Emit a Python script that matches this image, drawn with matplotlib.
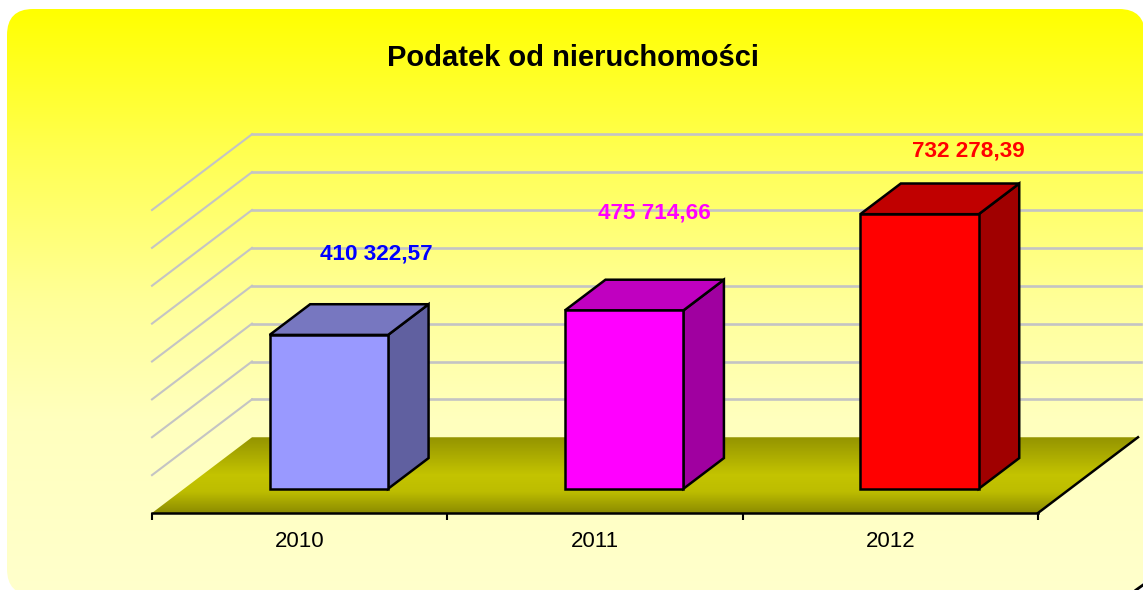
"""
Podatek od nieruchomosci - wykres slupkowy w stylu 3D
"""

import numpy as np
import matplotlib
matplotlib.use('Agg')
import matplotlib.pyplot as plt
from matplotlib.colors import LinearSegmentedColormap
from matplotlib.patches import FancyBboxPatch, Polygon

plt.rcParams['font.family'] = ['Liberation Sans', 'DejaVu Sans']

# dane
YEARS = ['2010', '2011', '2012']
VALUES = [410322.57, 475714.66, 732278.39]
VALUE_LABELS = ['410 322,57', '475 714,66', '732 278,39']
GRID_STEPS = [0, 100000, 200000, 300000, 400000, 500000, 600000, 700000, 800000]

# kolory slupkow: przod, gora, bok
FRONT_COLORS = ['#9999FF', '#FF00FF', '#FF0000']
TOP_COLORS = ['#7777C0', '#C000C0', '#C00000']
SIDE_COLORS = ['#6060A0', '#A000A0', '#A00000']
LABEL_COLORS = ['#0000FF', '#FF00FF', '#FF0000']

W, H = 1143, 590
# glebokosc sceny w jednostkach danych
DEPTH_X = 0.3386
DEPTH_Y = 200000
BAR_WIDTH = 0.401
BAR_SHIFT = -0.0095
BAR_D0 = 0.32
BAR_D1 = 0.725
# slupki stoja blizej niz tylna sciana, skala wartosci jest tam troche mniejsza
BAR_SCALE = 0.99


def project(x, v, d):
    """punkt (kategoria, wartosc, glebokosc 0..1) -> wspolrzedne osi"""
    return x + d * DEPTH_X, v + d * DEPTH_Y


def draw_background(fig):
    bg = fig.add_axes([0, 0, 1, 1], zorder=0)
    bg.set_xlim(0, W)
    bg.set_ylim(H, 0)
    bg.axis('off')
    cmap = LinearSegmentedColormap.from_list(
        'bg', [(0, '#FFFF00'), (0.24, '#FFFF50'), (0.5, '#FFFF99'), (0.7, '#FFFFBE'), (1, '#FFFFCC')])
    grad = np.linspace(0, 1, 256).reshape(-1, 1)
    im = bg.imshow(grad, cmap=cmap, extent=[7, W + 2, 595, 9], aspect='auto')
    r = 26
    panel = FancyBboxPatch((7 + r, 9 + r), W + 2 - 7 - 2 * r, 595 - 9 - 2 * r,
                           boxstyle=f'round,pad={r},rounding_size={r}',
                           transform=bg.transData, fc='none', ec='none')
    bg.add_patch(panel)
    im.set_clip_path(panel)
    # resztka ramki w prawym dolnym rogu
    bg.plot([1136, 1143], [590, 585], color='black', lw=2)
    bg.set_xlim(0, W)
    bg.set_ylim(H, 0)


def draw_walls(ax):
    for v in GRID_STEPS[1:]:
        x0, y0 = project(0, v, 0)
        x1, y1 = project(0, v, 1)
        ax.plot([x0, x1], [y0, y1], color='#C4C4C4', lw=1.5, clip_on=False, zorder=1)
        ax.plot([x1, 3 + DEPTH_X + 0.01], [y1, y1], color='#C4C4C4', lw=1.9, clip_on=False, zorder=1)


def draw_floor(ax):
    cmap = LinearSegmentedColormap.from_list(
        'floor', [(0, '#949400'), (0.5, '#C4C400'), (0.72, '#BDBD00'), (1, '#8C8C00')])
    grad = np.linspace(0, 1, 128).reshape(-1, 1)
    im = ax.imshow(grad, cmap=cmap, aspect='auto', origin='upper',
                   extent=[0, 3 + DEPTH_X, 0, DEPTH_Y], zorder=2)
    corners = [project(0, 0, 0), project(3, 0, 0), project(3, 0, 1), project(0, 0, 1)]
    poly = Polygon(corners, closed=True, transform=ax.transData, fc='none', ec='none')
    ax.add_patch(poly)
    im.set_clip_box(ax.figure.bbox)
    im.set_clip_path(poly)
    # czarna krawedz podlogi z prawej
    xs, ys = zip(project(3, 0, 0), project(3, 0, 1))
    ax.plot(xs, ys, color='black', lw=1.8, clip_on=False, zorder=2.5)
    ax.set_xlim(0, 3)
    ax.set_ylim(0, 800000)


def draw_bars(ax):
    for i, value in enumerate(VALUES):
        h = value * BAR_SCALE
        left = i + 0.5 + BAR_SHIFT - BAR_WIDTH / 2
        right = i + 0.5 + BAR_SHIFT + BAR_WIDTH / 2
        a = project(left, 0, BAR_D0)
        b = project(right, 0, BAR_D0)
        c = project(right, h, BAR_D0)
        d = project(left, h, BAR_D0)
        e = project(right, 0, BAR_D1)
        f = project(right, h, BAR_D1)
        g = project(left, h, BAR_D1)
        style = dict(ec='black', lw=1.8, joinstyle='miter', clip_on=False, zorder=3)
        ax.add_patch(Polygon([b, e, f, c], fc=SIDE_COLORS[i], **style))
        ax.add_patch(Polygon([d, c, f, g], fc=TOP_COLORS[i], **style))
        ax.add_patch(Polygon([a, b, c, d], fc=FRONT_COLORS[i], **style))


def main():
    fig = plt.figure(figsize=(W / 100, H / 100), dpi=100, facecolor='white')
    draw_background(fig)

    ax = fig.add_axes([152 / W, 1 - 513 / H, 886 / W, 303 / H], zorder=1)
    ax.patch.set_visible(False)
    ax.set_xlim(0, 3)
    ax.set_ylim(0, 800000)

    draw_walls(ax)
    draw_floor(ax)
    draw_bars(ax)

    for s in ['top', 'left', 'right']:
        ax.spines[s].set_visible(False)
    ax.spines['bottom'].set_linewidth(1.8)
    ax.spines['bottom'].set_zorder(5)
    ax.set_yticks([])
    ax.set_xticks([0, 1, 2, 3])
    ax.set_xticklabels([])
    ax.tick_params(axis='x', which='major', length=5, width=1.5)
    ax.set_xticks([0.5, 1.5, 2.5], minor=True)
    ax.set_xticklabels(YEARS, minor=True, fontsize=16)
    ax.tick_params(axis='x', which='minor', length=0, pad=13)

    # podpisy wartosci ustawione recznie, jak w oryginale
    label_pos = [(376, 254), (654, 213), (968, 151)]
    for (px, py), text, color in zip(label_pos, VALUE_LABELS, LABEL_COLORS):
        fig.text(px / W, 1 - py / H, text, color=color, fontsize=16.2, fontweight='bold',
                 ha='center', va='center', zorder=6)

    fig.text(573 / W, 1 - 58 / H, 'Podatek od nieruchomości', fontsize=21, fontweight='bold',
             ha='center', va='center', zorder=6)

    fig.savefig('out.png', dpi=100, facecolor='white')


if __name__ == "__main__":
    main()
